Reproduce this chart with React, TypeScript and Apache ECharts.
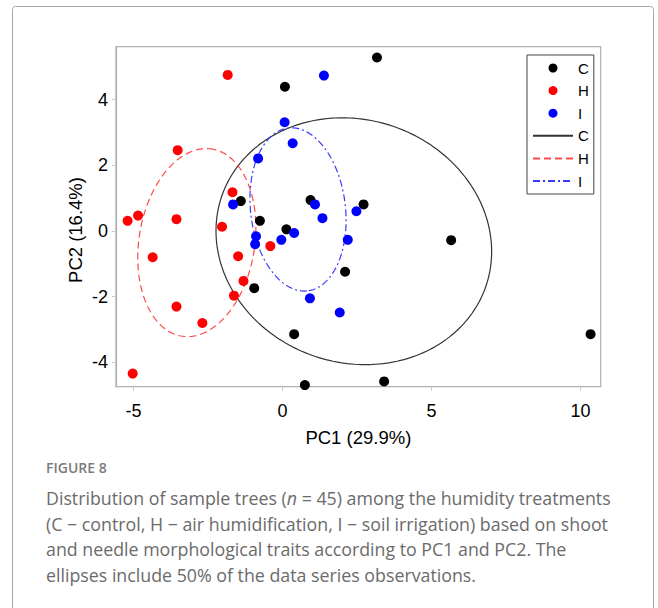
import React, { useEffect, useRef } from "react";
import * as echarts from "echarts";

// ---- data ----
const C_X = [3.17, 0.08, 9.31, -1.40, 0.94, 2.72, -0.76, 0.13, 5.66, 2.10, -0.95, 0.39, 10.34, 3.41, 0.75];
const C_Y = [5.28, 4.39, 1.44, 0.91, 0.94, 0.81, 0.31, 0.05, -0.28, -1.24, -1.74, -3.14, -3.14, -4.58, -4.69];
const H_X = [-1.84, -3.52, -1.68, -5.20, -4.85, -3.56, -2.03, -0.41, -4.36, -1.49, -1.31, -1.63, -3.56, -2.69, -5.03];
const H_Y = [4.75, 2.46, 1.18, 0.31, 0.47, 0.36, 0.13, -0.46, -0.80, -0.77, -1.52, -1.97, -2.30, -2.80, -4.34];
const I_X = [1.39, 0.07, 0.34, -0.82, -1.66, 1.09, 2.48, 1.34, -0.89, -0.92, -0.04, 0.39, 2.19, 0.92, 1.92];
const I_Y = [4.73, 3.31, 2.67, 2.21, 0.81, 0.81, 0.60, 0.39, -0.16, -0.40, -0.27, -0.06, -0.27, -2.05, -2.48];

const GROUPS = ["C", "H", "I"];
const X_TICKS = [-5, 0, 5, 10];
const Y_TICKS = [-4, -2, 0, 2, 4];
const X_TITLE = "PC1 (29.9%)";
const Y_TITLE = "PC2 (16.4%)";
const CAPTION_HEAD = "FIGURE 8";
const CAPTION_LINES = [
  "Distribution of sample trees ({i|n} = 45) among the humidity treatments",
  "(C \u2212 control, H \u2212 air humidification, I \u2212 soil irrigation) based on shoot",
  "and needle morphological traits according to PC1 and PC2. The",
  "ellipses include 50% of the data series observations.",
];

// 50% prediction ellipse computed from a group's observations
function predictionEllipse(xs: number[], ys: number[], steps = 240) {
  const n = xs.length;
  const mx = xs.reduce((a, b) => a + b, 0) / n;
  const my = ys.reduce((a, b) => a + b, 0) / n;
  let sxx = 0, syy = 0, sxy = 0;
  for (let i = 0; i < n; i++) {
    sxx += (xs[i] - mx) ** 2;
    syy += (ys[i] - my) ** 2;
    sxy += (xs[i] - mx) * (ys[i] - my);
  }
  sxx /= n - 1; syy /= n - 1; sxy /= n - 1;
  const p = 2;
  const d2 = n - p;
  const F = (d2 / 2) * (Math.pow(2, 2 / d2) - 1); // median of F(2, n-2)
  const c = (p * (n - 1) * (n + 1)) / (n * (n - p)) * F;
  const tr = sxx + syy;
  const det = sxx * syy - sxy * sxy;
  const disc = Math.sqrt(Math.max(tr * tr / 4 - det, 0));
  const l1 = tr / 2 + disc;
  const l2 = tr / 2 - disc;
  const th = 0.5 * Math.atan2(2 * sxy, sxx - syy);
  const a = Math.sqrt(c * l1);
  const b = Math.sqrt(c * Math.max(l2, 0));
  const pts: number[][] = [];
  for (let k = 0; k <= steps; k++) {
    const t = (2 * Math.PI * k) / steps;
    const u = a * Math.cos(t);
    const v = b * Math.sin(t);
    pts.push([mx + u * Math.cos(th) - v * Math.sin(th), my + u * Math.sin(th) + v * Math.cos(th)]);
  }
  return pts;
}

const zip = (xs: number[], ys: number[]) => xs.map((x, i) => [x, ys[i]]);

export default function App() {
  const ref = useRef<HTMLDivElement>(null);
  useEffect(() => {
    if (!ref.current) return;
    const chart = echarts.init(ref.current, undefined, { renderer: "svg" });
    const font = "'Liberation Sans', Arial, sans-serif";
    const capFont = "'Open Sans', 'Noto Sans', sans-serif";
    const pointColors = ["#000000", "#ff0000", "#0000ff"];
    const lineColors = ["#333333", "#ff4a4a", "#3a3aff"];
    const lineTypes: any[] = ["solid", [7, 4], [7, 3, 2, 3]];
    const xs = [C_X, H_X, I_X];
    const ys = [C_Y, H_Y, I_Y];

    const scatterSeries = GROUPS.map((g, i) => ({
      name: g,
      type: "scatter",
      data: zip(xs[i], ys[i]),
      symbol: "circle",
      symbolSize: 10,
      itemStyle: { color: pointColors[i], opacity: 1 },
      z: 3,
    }));
    const lineSeries = GROUPS.map((g, i) => ({
      name: g + " ",
      type: "line",
      data: predictionEllipse(xs[i], ys[i]),
      symbol: "none",
      showSymbol: false,
      smooth: false,
      silent: true,
      lineStyle: { color: lineColors[i], width: 1.2, type: lineTypes[i] },
      itemStyle: { color: lineColors[i] },
      z: 2,
    }));

    const captionGraphics: any[] = [
      {
        type: "rect",
        shape: { x: 12.5, y: 6.5, width: 641, height: 700, r: 3 },
        style: { fill: "none", stroke: "#a8a8a8", lineWidth: 1 },
        silent: true,
      },
      {
        type: "text",
        x: 75,
        y: 230,
        rotation: Math.PI / 2,
        style: {
          text: Y_TITLE,
          fontSize: 18.5,
          fontFamily: font,
          fill: "#000",
          align: "center",
          verticalAlign: "middle",
        },
      },
      {
        type: "text",
        x: 46,
        y: 467,
        style: {
          text: CAPTION_HEAD,
          fontSize: 14,
          fontWeight: 600,
          fontFamily: capFont,
          fill: "#7a7a7a",
          verticalAlign: "middle",
        },
      },
      ...CAPTION_LINES.map((t, i) => ({
        type: "text",
        x: 46,
        y: 498 + i * 25.7,
        style: {
          text: t,
          fontSize: 17.8,
          fontFamily: capFont,
          fill: "#6b6b6b",
          verticalAlign: "middle",
          rich: {
            i: { fontStyle: "italic", fontSize: 17.8, fontFamily: capFont, fill: "#6b6b6b" },
          },
        },
      })),
    ];

    const hidden = { opacity: 0, color: "rgba(0,0,0,0)", borderColor: "rgba(0,0,0,0)", borderWidth: 0 };

    chart.setOption({
      animation: false,
      backgroundColor: "#fff",
      grid: {
        left: 116,
        top: 46.7,
        width: 484.7,
        height: 340,
        show: true,
        borderColor: "#b0b0b0",
        borderWidth: 1.2,
        backgroundColor: "transparent",
      },
      xAxis: {
        type: "value",
        min: -5.59,
        max: 10.68,
        name: X_TITLE,
        nameLocation: "middle",
        nameGap: 41,
        nameTextStyle: { fontSize: 18.5, fontFamily: font, color: "#000" },
        axisLine: { show: true, onZero: false, lineStyle: { color: "#b0b0b0", width: 1.2 } },
        axisTick: { show: true, length: 4, lineStyle: { color: "#c8c8c8" }, customValues: X_TICKS },
        axisLabel: { fontSize: 18, fontFamily: font, color: "#000", margin: 15, customValues: X_TICKS },
        splitLine: { show: false },
      },
      yAxis: {
        type: "value",
        min: -4.74,
        max: 5.61,
        axisLine: { show: true, onZero: false, lineStyle: { color: "#b0b0b0", width: 1.2 } },
        axisTick: { show: true, length: 4, lineStyle: { color: "#c8c8c8" }, customValues: Y_TICKS },
        axisLabel: { fontSize: 18, fontFamily: font, color: "#000", margin: 8, customValues: Y_TICKS },
        splitLine: { show: false },
      },
      legend: {
        orient: "vertical",
        left: 527,
        top: 55,
        padding: [5.5, 5, 5.5, 5],
        itemWidth: 40,
        itemHeight: 9,
        itemGap: 7.6,
        borderColor: "#444",
        borderWidth: 1,
        backgroundColor: "#fff",
        selectedMode: false,
        textStyle: { fontSize: 15, fontFamily: font, color: "#000" },
        formatter: (n: string) => n.trim(),
        data: [
          "C",
          "H",
          "I",
          { name: "C ", itemStyle: hidden },
          { name: "H ", itemStyle: hidden },
          { name: "I ", itemStyle: hidden },
        ],
      },
      graphic: captionGraphics,
      series: [...lineSeries, ...scatterSeries],
    });
    return () => chart.dispose();
  }, []);
  return (
    <div style={{ position: "absolute", left: 0, top: 0, width: 658, height: 608 }}>
      <div ref={ref} style={{ width: 658, height: 608 }} />
    </div>
  );
}
